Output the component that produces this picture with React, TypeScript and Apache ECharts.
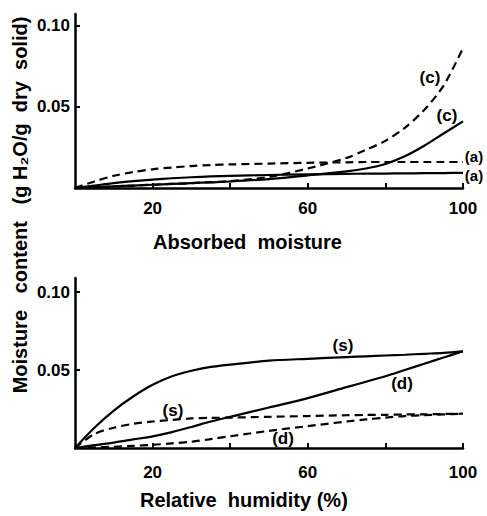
import React, { useEffect, useRef } from "react";
import * as echarts from "echarts";

// Relative humidity grid (%)
const RH = [0, 5, 10, 15, 20, 25, 30, 35, 40, 50, 60, 70, 75, 80, 85, 90, 95, 100];

// Top panel: absorbed moisture (g H2O / g dry solid)
const aDashed = [0, 0.004, 0.0075, 0.0098, 0.0115, 0.0126, 0.0135, 0.0141, 0.0145, 0.015, 0.0155, 0.0158, 0.016, 0.016, 0.016, 0.016, 0.016, 0.016];
const aSolid = [0, 0.0015, 0.003, 0.0042, 0.0052, 0.006, 0.0066, 0.0071, 0.0075, 0.008, 0.0084, 0.0087, 0.0088, 0.0089, 0.009, 0.0091, 0.0092, 0.0093];
const cSolid = [0, 0.0005, 0.001, 0.0015, 0.002, 0.0025, 0.003, 0.0035, 0.004, 0.0055, 0.0078, 0.0102, 0.012, 0.0148, 0.0195, 0.026, 0.0335, 0.041];
const cDashed = [0, 0.0005, 0.001, 0.0015, 0.002, 0.0025, 0.003, 0.0036, 0.0042, 0.0068, 0.012, 0.0185, 0.0235, 0.029, 0.037, 0.048, 0.063, 0.086];

// Bottom panel
const sSolid = [0, 0.013, 0.024, 0.033, 0.0405, 0.046, 0.0495, 0.052, 0.0535, 0.056, 0.0572, 0.0583, 0.0588, 0.0593, 0.0598, 0.0604, 0.061, 0.062];
const dSolid = [0, 0.0018, 0.0035, 0.0055, 0.0075, 0.0102, 0.0135, 0.017, 0.02, 0.026, 0.032, 0.039, 0.0425, 0.046, 0.05, 0.054, 0.058, 0.062];
const sDashed = [0, 0.009, 0.013, 0.0155, 0.017, 0.018, 0.019, 0.0193, 0.0195, 0.02, 0.0205, 0.021, 0.0212, 0.0213, 0.0215, 0.0216, 0.0218, 0.022];
const dDashed = [0, 0.0004, 0.0008, 0.0014, 0.002, 0.003, 0.004, 0.0057, 0.0075, 0.011, 0.014, 0.017, 0.0183, 0.0195, 0.0205, 0.021, 0.0215, 0.022];

const xTickValues = [20, 40, 60, 80, 100];
const xLabelValues = [20, 60, 100];
const yTickValues = [0.05, 0.1];

const FONT = "Liberation Sans";
const NB = "\u00A0";

const pairs = (ys: number[]) => RH.map((x, i) => [x, ys[i]]);

export default function App() {
  const ref = useRef<HTMLDivElement>(null);
  useEffect(() => {
    if (!ref.current) return;
    const chart = echarts.init(ref.current, undefined, { renderer: "svg" });

    const xAxisBase = (gridIndex: number, margin: number) => ({
      type: "value",
      gridIndex,
      min: 0,
      max: 100,
      axisLine: { show: true, onZero: false, lineStyle: { color: "#000", width: 2.5 } },
      axisTick: { show: true, inside: true, length: 5, customValues: xTickValues, lineStyle: { color: "#000", width: 2 } },
      axisLabel: {
        show: true,
        customValues: xLabelValues,
        margin,
        color: "#000",
        fontFamily: FONT,
        fontWeight: "bold",
        fontSize: 17,
      },
      splitLine: { show: false },
    });

    const yAxisBase = (gridIndex: number, max: number) => ({
      type: "value",
      gridIndex,
      min: 0,
      max,
      axisLine: { show: true, onZero: false, lineStyle: { color: "#000", width: 2.5 } },
      axisTick: { show: true, inside: true, length: 5, customValues: yTickValues, lineStyle: { color: "#000", width: 2 } },
      axisLabel: {
        show: true,
        customValues: yTickValues,
        margin: 5,
        color: "#000",
        fontFamily: FONT,
        fontWeight: "bold",
        fontSize: 17,
        formatter: (v: number) => v.toFixed(2),
      },
      splitLine: { show: false },
    });

    const line = (data: number[], dashed: boolean, xi: number) => ({
      type: "line",
      xAxisIndex: xi,
      yAxisIndex: xi,
      data: pairs(data),
      smooth: 0.3,
      showSymbol: false,
      symbol: "none",
      lineStyle: { color: "#000", width: 2.2, type: dashed ? [8, 5] : "solid" },
    });

    const lbl = (text: string, x: number, y: number, size = 17) => ({
      type: "text",
      x,
      y,
      style: {
        text,
        fill: "#000",
        font: `bold ${size}px "${FONT}"`,
        textAlign: "center",
        textVerticalAlign: "middle",
      },
    });

    chart.setOption({
      animation: false,
      backgroundColor: "#fff",
      grid: [
        { left: 75, right: 24, top: 14, height: 174 },
        { left: 75, right: 24, top: 278, height: 170 },
      ],
      xAxis: [xAxisBase(0, 12), xAxisBase(1, 16)],
      yAxis: [yAxisBase(0, 0.107), yAxisBase(1, 0.109)],
      series: [
        line(aDashed, true, 0),
        line(aSolid, false, 0),
        line(cSolid, false, 0),
        line(cDashed, true, 0),
        line(sSolid, false, 1),
        line(dSolid, false, 1),
        line(sDashed, true, 1),
        line(dDashed, true, 1),
      ],
      graphic: [
        lbl("(c)", 430, 77),
        lbl("(c)", 447, 115),
        lbl("(a)", 474, 156, 15),
        lbl("(a)", 474, 175, 15),
        lbl("(s)", 343, 345),
        lbl("(d)", 402, 383),
        lbl("(s)", 173, 410),
        lbl("(d)", 283, 438),
        {
          type: "text",
          x: 153,
          y: 242,
          style: { text: `Absorbed${NB}${NB}moisture`, fill: "#000", font: `bold 20px "${FONT}"`, textAlign: "left", textVerticalAlign: "middle" },
        },
        {
          type: "text",
          x: 140,
          y: 500,
          style: { text: `Relative${NB}${NB}humidity${NB}(%)`, fill: "#000", font: `bold 20px "${FONT}"`, textAlign: "left", textVerticalAlign: "middle" },
        },
        {
          type: "text",
          x: 20,
          y: 205,
          rotation: Math.PI / 2,
          style: {
            text: `Moisture${NB}${NB}${NB}content${NB}${NB}${NB}(g${NB}H\u2082O/g${NB}${NB}dry${NB}${NB}solid)`,
            fill: "#000",
            font: `bold 20px "${FONT}"`,
            textAlign: "center",
            textVerticalAlign: "middle",
          },
        },
      ],
    });
    return () => chart.dispose();
  }, []);
  return <div ref={ref} style={{ position: "absolute", left: 0, top: 0, width: 487, height: 516 }} />;
}
